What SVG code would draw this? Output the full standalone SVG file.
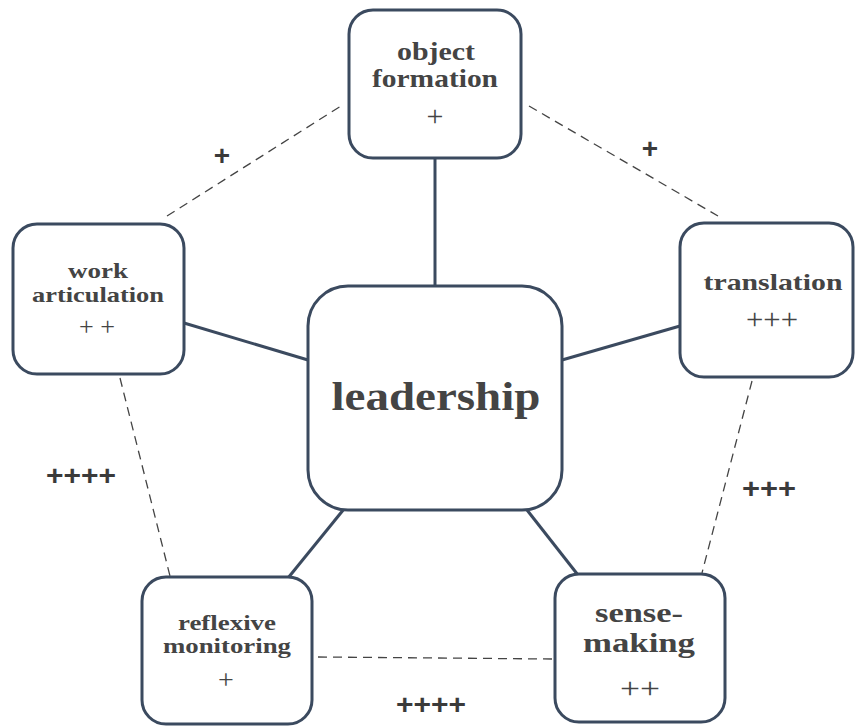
<svg xmlns="http://www.w3.org/2000/svg" width="855" height="726" viewBox="0 0 855 726">
<style>
.box{fill:#fff;stroke:#3b4a5f;stroke-width:3}
.solid{stroke:#3b4a5f;stroke-width:3;fill:none}
.dash{stroke:#444;stroke-width:1.3;stroke-dasharray:9 6;fill:none}
.t{font-family:"Liberation Serif",serif;font-weight:bold;fill:#444;text-anchor:middle}
.p{font-family:"Liberation Serif",serif;fill:#444;text-anchor:middle}
.lbl{font-family:"Liberation Sans",sans-serif;font-weight:bold;fill:#3a3a3a;text-anchor:middle;font-size:28px}
</style>
<rect width="855" height="726" fill="#fff"/>
<g id="connectors">
<line class="solid" x1="435" y1="158" x2="435" y2="287"/>
<line class="solid" x1="184" y1="323" x2="308" y2="360"/>
<line class="solid" x1="680" y1="326" x2="562" y2="360"/>
<line class="solid" x1="288" y1="578" x2="344" y2="509"/>
<line class="solid" x1="578" y1="575" x2="527" y2="510"/>
<line class="dash" x1="167" y1="216" x2="341" y2="106"/>
<line class="dash" x1="529" y1="106" x2="718" y2="216"/>
<line class="dash" x1="120" y1="378" x2="170" y2="576"/>
<line class="dash" x1="752" y1="381" x2="702" y2="573"/>
<line class="dash" x1="318" y1="657" x2="554" y2="659"/>
<text class="lbl" x="222" y="165">+</text>
<text class="lbl" x="650" y="158">+</text>
<text class="lbl" x="81" y="485" textLength="70" lengthAdjust="spacingAndGlyphs">++++</text>
<text class="lbl" x="769" y="498" textLength="54" lengthAdjust="spacingAndGlyphs">+++</text>
<text class="lbl" x="431" y="714" textLength="70" lengthAdjust="spacingAndGlyphs">++++</text>
</g>
<g id="object-formation">
<rect class="box" x="349" y="10" width="172" height="148" rx="24"/>
<text class="t" x="436" y="60" font-size="25" textLength="78" lengthAdjust="spacingAndGlyphs">object</text>
<text class="t" x="435" y="87" font-size="25" textLength="126" lengthAdjust="spacingAndGlyphs">formation</text>
<text class="p" x="435" y="126" font-size="30">+</text>
</g>
<g id="work-articulation">
<rect class="box" x="13" y="224" width="171" height="150" rx="24"/>
<text class="t" x="98" y="278" font-size="21" textLength="60" lengthAdjust="spacingAndGlyphs">work</text>
<text class="t" x="98" y="302" font-size="21" textLength="132" lengthAdjust="spacingAndGlyphs">articulation</text>
<text class="p" x="97" y="335" font-size="25" textLength="36" lengthAdjust="spacingAndGlyphs">+ +</text>
</g>
<g id="translation">
<rect class="box" x="680" y="223" width="173" height="154" rx="24"/>
<text class="t" x="773" y="290" font-size="23" textLength="139" lengthAdjust="spacingAndGlyphs">translation</text>
<text class="p" x="772" y="329" font-size="30" textLength="52" lengthAdjust="spacingAndGlyphs">+++</text>
</g>
<g id="leadership">
<rect class="box" x="308" y="286" width="254" height="224" rx="40"/>
<text class="t" x="436" y="410" font-size="41" textLength="209" lengthAdjust="spacingAndGlyphs">leadership</text>
</g>
<g id="reflexive-monitoring">
<rect class="box" x="142" y="577" width="170" height="147" rx="24"/>
<text class="t" x="227" y="630" font-size="22" textLength="98" lengthAdjust="spacingAndGlyphs">reflexive</text>
<text class="t" x="227" y="653" font-size="22" textLength="128" lengthAdjust="spacingAndGlyphs">monitoring</text>
<text class="p" x="226" y="689" font-size="28">+</text>
</g>
<g id="sense-making">
<rect class="box" x="555" y="574" width="170" height="148" rx="24"/>
<text class="t" x="639" y="622" font-size="28" textLength="88" lengthAdjust="spacingAndGlyphs">sense-</text>
<text class="t" x="639" y="652" font-size="28" textLength="112" lengthAdjust="spacingAndGlyphs">making</text>
<text class="p" x="640" y="698" font-size="30" textLength="40" lengthAdjust="spacingAndGlyphs">++</text>
</g>
</svg>
